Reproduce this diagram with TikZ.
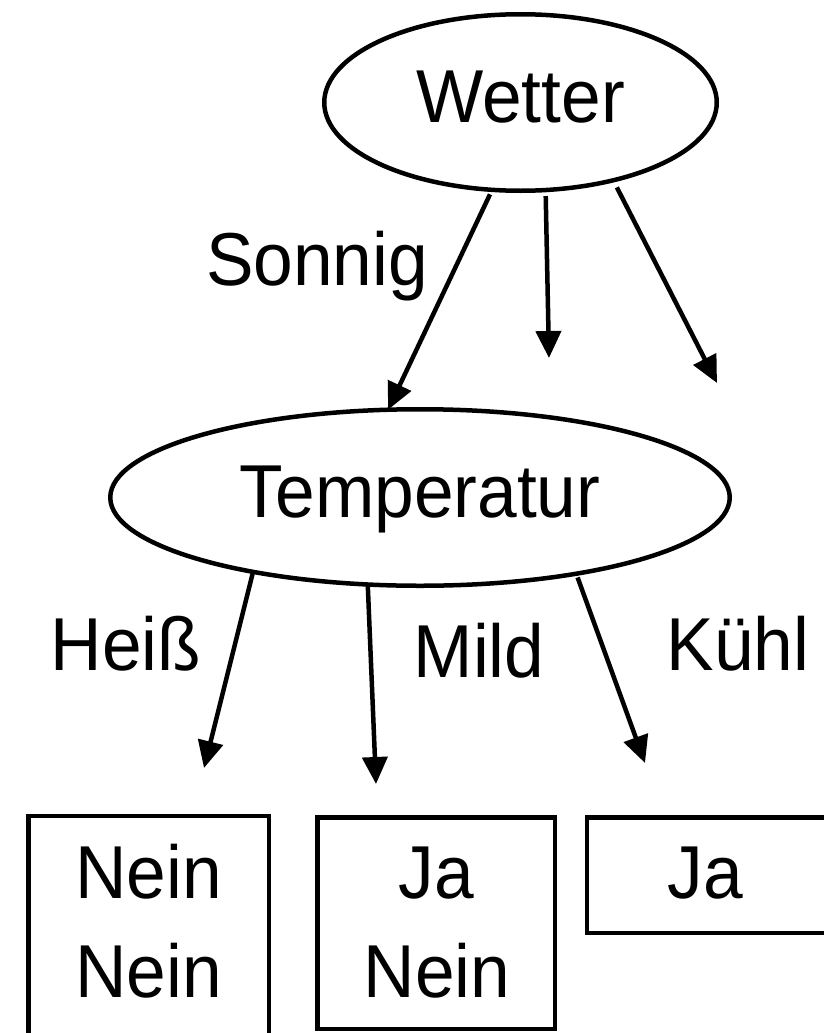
\documentclass[tikz,border=0pt]{standalone}
\usepackage{fontspec}
\setmainfont[FakeStretch=0.95]{Liberation Sans}
\usetikzlibrary{shapes.geometric,arrows.meta}
\tikzset{
  lbl/.style={font=\fontsize{75}{80}\selectfont, inner sep=0pt, anchor=base},
  oval/.style={ellipse, draw, line width=4.5pt, inner sep=0pt, outer sep=0pt,
    font=\fontsize{75}{80}\selectfont, text height=54pt, text depth=14pt},
  leaf/.style={rectangle, draw, line width=4.5pt, inner sep=0pt, outer sep=0pt},
  arr/.style={line width=4.5pt, -{Triangle[length=27pt,width=25pt]}},
}
\begin{document}
\begin{tikzpicture}[x=1pt,y=-1pt]
\useasboundingbox (0,0) rectangle (824,1033);
\clip (0,0) rectangle (824,1033);
% nodes
\node[oval, minimum width=392.5pt, minimum height=176.5pt] (w) at (520.5,102.5) {Wetter};
\node[oval, minimum width=619.5pt, minimum height=176.5pt] (t) at (420,497.5) {Temperatur};
% leaves
\node[leaf, minimum width=240.5pt, minimum height=229pt] (b1) at (148.5,930.5) {};
\node[leaf, minimum width=237.5pt, minimum height=211.5pt] (b2) at (436,923) {};
\node[leaf, minimum width=243pt, minimum height=115.5pt] (b3) at (708.5,875) {};
\node[lbl] (b1a) at (148.5,898) {Nein};
\node[lbl] (b1b) at (148.5,997) {Nein};
\node[lbl] (b2a) at (436,898) {Ja};
\node[lbl] (b2b) at (437,997) {Nein};
\node[lbl] (b3a) at (705,898) {Ja};
% free ends
\coordinate (m1) at (549,358);
\coordinate (m2) at (717,383);
\coordinate (e1) at (204,768);
\coordinate (e2) at (376,784);
\coordinate (e3) at (645,763);
% connectors
\draw[arr, shorten <=5pt] (w.252.7) -- (t.110);
\draw[arr, shorten <=6pt] (w.286.4) -- (m1);
\draw[arr, shorten <=8pt] (w.320.3) -- (m2);
\draw[arr, shorten <=2pt] (t.204.1) -- (e1);
\draw[arr] (t.239.5) -- (e2);
\draw[arr, shorten <=4pt] (t.334.1) -- (e3);
% edge labels
\node[lbl] (ls) at (317,285) {Sonnig};
\node[lbl] (lh) at (126,670) {Heiß};
\node[lbl] (lm) at (479,677) {Mild};
\node[lbl] (lk) at (738,670) {Kühl};
\end{tikzpicture}
\end{document}
